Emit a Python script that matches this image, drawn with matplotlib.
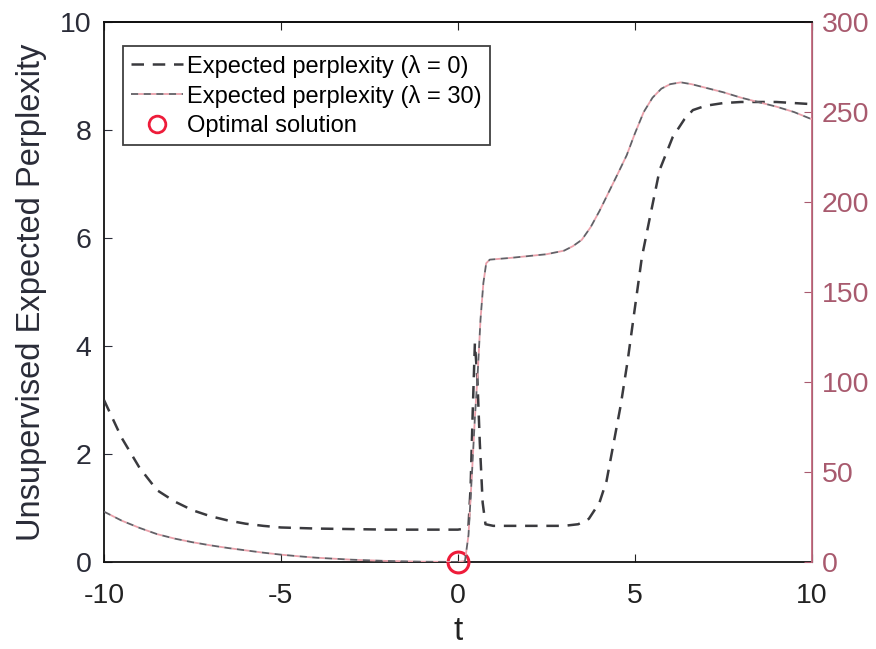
import matplotlib
matplotlib.use("Agg")
import matplotlib.pyplot as plt
from matplotlib.lines import Line2D

plt.rcParams['font.family'] = ['Liberation Sans', 'DejaVu Sans']
plt.rcParams['axes.unicode_minus'] = False

# lambda = 0 curve (left axis)
t0 = [-10, -9.5, -9, -8.5, -8, -7.5, -7, -6.5, -6, -5.5, -5, -4, -3, -2, -1, 0, 0.2, 0.3,
      0.36, 0.42, 0.48, 0.55, 0.62, 0.7, 0.78, 1.0, 2.0, 3.0, 3.4, 3.7, 4.0, 4.2, 4.4, 4.6,
      4.8, 5.0, 5.2, 5.4, 5.7, 6.07, 6.4, 6.64, 7.0, 7.5, 8.0, 9.0, 9.5, 10]
p0 = [3.0, 2.3, 1.75, 1.33, 1.12, 0.96, 0.85, 0.77, 0.71, 0.67, 0.64, 0.62, 0.61, 0.6, 0.6, 0.6, 0.62, 0.66,
      1.4, 2.8, 4.05, 3.4, 2.2, 1.1, 0.7, 0.67, 0.67, 0.67, 0.7, 0.8, 1.1, 1.5, 2.2, 2.9,
      3.74, 4.7, 5.65, 6.3, 7.26, 7.87, 8.2, 8.37, 8.45, 8.5, 8.52, 8.52, 8.5, 8.48]

# lambda = 30 curve (right axis)
t30 = [-10, -9.5, -9, -8.5, -8, -7.5, -7, -6.5, -6, -5.5, -5, -4.5, -4, -3, -2, -1, 0, 0.2, 0.3,
       0.4, 0.48, 0.56, 0.64, 0.72, 0.8, 0.9, 1.5, 2.0, 2.5, 3.0, 3.25, 3.5, 3.75, 4.0, 4.25,
       4.5, 4.77, 5.0, 5.25, 5.5, 5.75, 6.0, 6.3, 6.6, 7.0, 7.5, 8.0, 8.5, 9.0, 9.5, 10]
p30 = [28, 23, 19, 15.5, 13, 11, 9.3, 7.8, 6.5, 5.2, 4.1, 3.2, 2.4, 1.3, 0.6, 0.2, 0.05, 0.5, 15,
       50, 80, 105, 135, 155, 166, 168, 169, 170, 171, 173, 175.5, 179, 186, 195, 205,
       215, 226, 238, 250, 258, 263, 265.5, 266.5, 265.5, 263.5, 261, 258, 255.5, 253, 250, 246]

opt_t = [0]
opt_v = [0]

left_color = '#2a2c38'
right_color = '#a85a6e'
spine_right = '#c46a80'
dash0 = '#3a3a3e'
dash30 = '#626066'
gap30 = '#eaa0aa'

fig = plt.figure(figsize=(8.76, 6.49), dpi=100)
ax = fig.add_axes([0.1187, 0.134, 0.808, 0.832])
ax2 = ax.twinx()

ax.plot(t0, p0, linestyle='--', color=dash0, linewidth=1.8, dashes=(5, 3.5), zorder=3)
ax.plot(opt_t, opt_v, 'o', markersize=15, markerfacecolor='none', markeredgecolor='#ee1c3a',
        markeredgewidth=2.2, zorder=5, clip_on=False)
ax2.plot(t30, p30, linestyle='--', color=dash30, gapcolor=gap30, linewidth=1.3,
         dashes=(4, 3), zorder=3)

ax.set_xlim(-10, 10)
ax.set_ylim(0, 10)
ax2.set_ylim(0, 300)
ax.set_xticks([-10, -5, 0, 5, 10])
ax.set_yticks([0, 2, 4, 6, 8, 10])
ax2.set_yticks([0, 50, 100, 150, 200, 250, 300])

ax.tick_params(axis='x', direction='in', top=True, labelsize=20.5, colors='#222222', length=6, pad=15)
ax.tick_params(axis='y', direction='in', labelsize=20.5, colors=left_color, length=6, pad=9)
ax2.tick_params(axis='y', direction='in', labelsize=20.5, colors=right_color, length=6, pad=7)
ax2.tick_params(axis='x', top=True, direction='in')

for s in ['left', 'top', 'bottom']:
    ax.spines[s].set_color('#111111')
    ax.spines[s].set_linewidth(1.3)
ax2.spines['right'].set_color(spine_right)
ax2.spines['right'].set_linewidth(1.3)
ax2.spines['left'].set_visible(False)
ax2.spines['top'].set_color('#111111')
ax2.spines['top'].set_linewidth(1.3)
ax2.spines['bottom'].set_visible(False)

ax.set_ylabel('Unsupervised Expected Perplexity', fontsize=23.5, color=left_color, labelpad=9)
ax.set_xlabel('t', fontsize=24, color='#222222', labelpad=5)

handles = [
    Line2D([], [], linestyle='--', color=dash0, linewidth=1.8, dashes=(5, 3.5)),
    Line2D([], [], linestyle='--', color=dash30, gapcolor=gap30, linewidth=1.3, dashes=(4, 3)),
    Line2D([], [], marker='o', linestyle='none', markersize=12, markerfacecolor='none',
           markeredgecolor='#ee1c3a', markeredgewidth=2.0),
]
labels = ['Expected perplexity (λ = 0)', 'Expected perplexity (λ = 30)', 'Optimal solution']
leg = ax2.legend(handles, labels, loc='upper left', bbox_to_anchor=(0.027, 0.955), fontsize=17,
                 frameon=True, fancybox=False, edgecolor='#111111', handlelength=2.2,
                 handletextpad=0.15, borderpad=0.35, labelspacing=0.3, borderaxespad=0)
leg.get_frame().set_linewidth(1.3)

fig.savefig('out.png', dpi=100)
